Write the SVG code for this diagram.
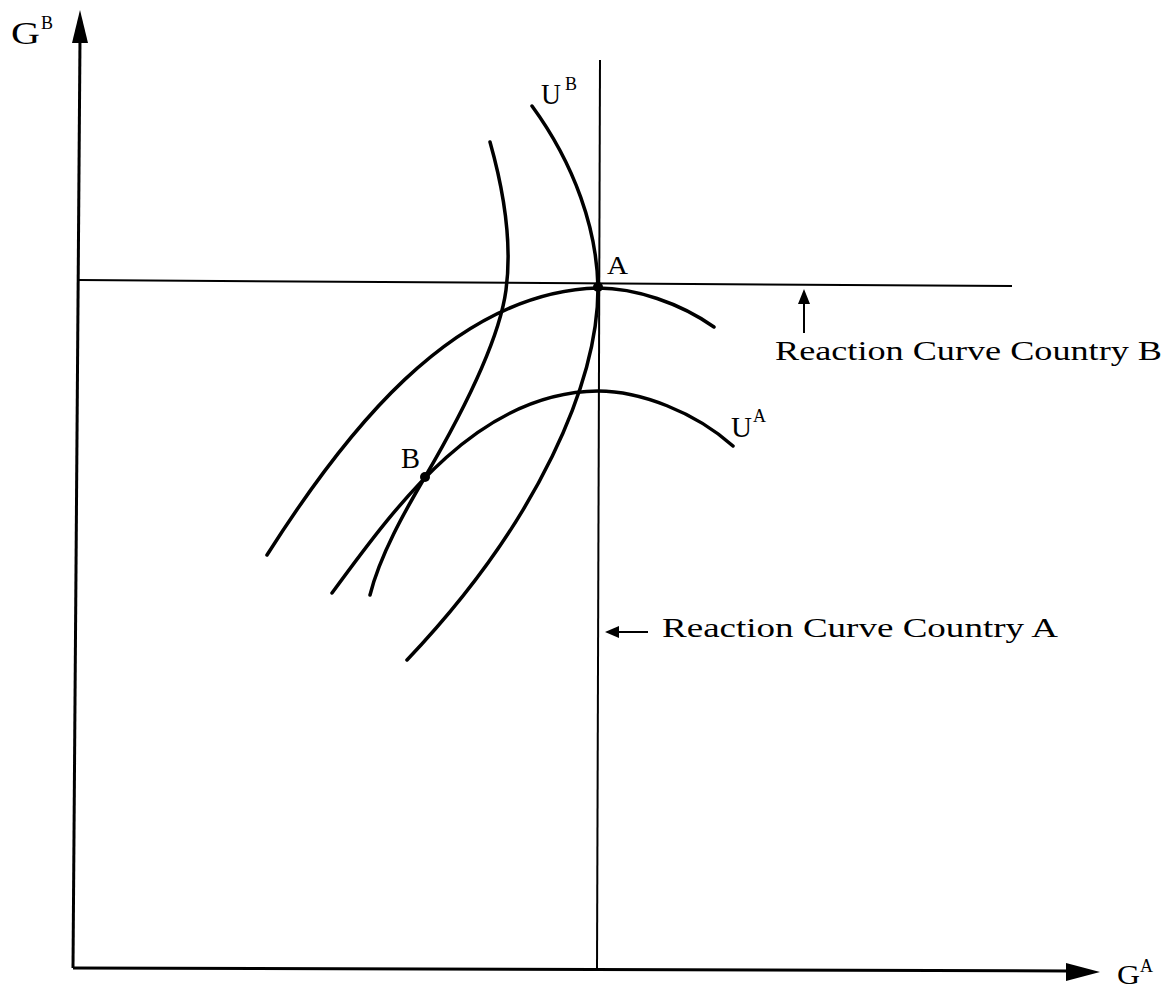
<svg xmlns="http://www.w3.org/2000/svg" width="1176" height="989" viewBox="0 0 1176 989">
<style>
.ax{stroke:#000;stroke-width:3;fill:none}
.rc{stroke:#000;stroke-width:2;fill:none}
.cv{stroke:#000;stroke-width:3.5;fill:none;stroke-linecap:round}
.t{font-family:"Liberation Serif","Times New Roman",serif;fill:#000}
.lbl{font-size:30px}
.sup{font-size:18px}
.rl{font-size:28px}
</style>
<rect width="1176" height="989" fill="#fff"/>
<g id="axes">
<line class="ax" x1="73" y1="968" x2="80" y2="38"/>
<polygon points="80,10 72,43 88,43" fill="#000"/>
<line class="ax" x1="73" y1="968" x2="1070" y2="971"/>
<polygon points="1100,972 1066,963 1066,981" fill="#000"/>
<text class="t" x="11" y="44" font-size="32" textLength="29" lengthAdjust="spacingAndGlyphs">G</text>
<text class="t sup" x="41" y="29">B</text>
<text class="t" x="1117" y="984" font-size="27" textLength="23" lengthAdjust="spacingAndGlyphs">G</text>
<text class="t sup" x="1140" y="972">A</text>
</g>
<g id="reaction-lines">
<line class="rc" x1="79" y1="280" x2="1012" y2="286"/>
<line class="rc" x1="600" y1="60" x2="597" y2="970"/>
</g>
<g id="curves">
<path class="cv" d="M267,555 C340,440 450,292 598,288 C635,288 680,303 714,327"/>
<path class="cv" d="M332,593 C400,500 480,392 598,391 C640,391 695,412 733,446"/>
<path class="cv" d="M532,106 C575,165 597,230 598,288 C598,380 540,520 407,660"/>
<path class="cv" d="M490,142 C505,195 512,245 506,290 C500,335 470,400 425,477 C405,511 380,555 370,595"/>
</g>
<g id="point-A">
<circle cx="598" cy="287" r="5" fill="#000"/>
<text class="t" x="607" y="274" font-size="26" textLength="21" lengthAdjust="spacingAndGlyphs">A</text>
</g>
<g id="point-B">
<circle cx="425" cy="477" r="5" fill="#000"/>
<text class="t" x="401" y="468" font-size="29" textLength="19" lengthAdjust="spacingAndGlyphs">B</text>
</g>
<g id="label-UB">
<text class="t lbl" x="541" y="104" textLength="20" lengthAdjust="spacingAndGlyphs">U</text>
<text class="t sup" x="565" y="90">B</text>
</g>
<g id="label-UA">
<text class="t lbl" x="731" y="437" textLength="21" lengthAdjust="spacingAndGlyphs">U</text>
<text class="t sup" x="753" y="422">A</text>
</g>
<g id="connectors">
<line class="rc" x1="804" y1="333" x2="804" y2="300"/>
<polygon points="804,289 798,304 810,304" fill="#000"/>
<line class="rc" x1="648" y1="632" x2="616" y2="632"/>
<polygon points="605,632 619,626 619,638" fill="#000"/>
</g>
<g id="label-rcB">
<text class="t rl" x="775" y="360" textLength="387" lengthAdjust="spacingAndGlyphs">Reaction Curve Country B</text>
</g>
<g id="label-rcA">
<text class="t rl" x="662" y="637" textLength="396" lengthAdjust="spacingAndGlyphs">Reaction Curve Country A</text>
</g>
</svg>
